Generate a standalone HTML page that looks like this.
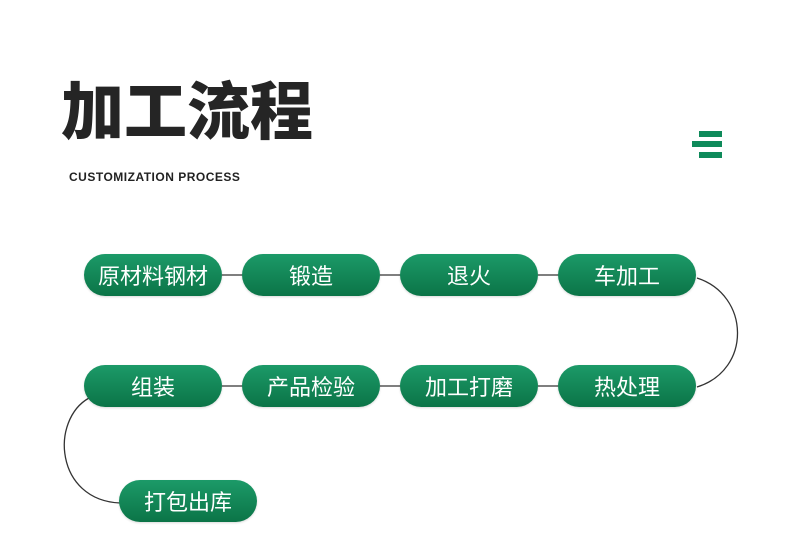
<!DOCTYPE html>
<html><head><meta charset="utf-8"><style>
body{margin:0;width:790px;height:552px;background:#fff;position:relative;overflow:hidden;font-family:"Liberation Sans","Noto Sans CJK SC",sans-serif}
.t{position:absolute;left:61px;top:68px;font-size:63px;font-weight:900;color:#252525;letter-spacing:0px;line-height:80px;font-family:"Noto Sans CJK SC",sans-serif}
.s{position:absolute;left:69px;top:170px;font-size:12px;font-weight:bold;color:#222;letter-spacing:0.5px}
.b{position:absolute;height:8px;background:#0e8a5a}
.p{position:absolute;width:138px;height:42px;border-radius:21px;background:linear-gradient(#1c9a68,#0b7447);color:#fff;font-size:22px;line-height:42px;text-align:center;font-family:"Noto Sans CJK SC",sans-serif;box-shadow:0 1px 2px rgba(0,0,0,.15)}
svg{position:absolute;left:0;top:0}
</style></head><body>
<div class="t">加工流程</div>
<div class="s">CUSTOMIZATION PROCESS</div>
<div class="b" style="left:699px;top:131px;width:23px;height:6px"></div>
<div class="b" style="left:692px;top:141px;width:30px;height:6px"></div>
<div class="b" style="left:699px;top:152px;width:23px;height:6px"></div>
<svg width="790" height="552"><g fill="none" stroke="#333" stroke-width="1.3">
<line x1="222" y1="275" x2="243" y2="275"/><line x1="380" y1="275" x2="401" y2="275"/><line x1="538" y1="275" x2="559" y2="275"/>
<line x1="222" y1="386" x2="243" y2="386"/><line x1="380" y1="386" x2="401" y2="386"/><line x1="538" y1="386" x2="559" y2="386"/>
<path d="M697 278 C750 295 752 370 697 387"/>
<path d="M89 398 C50 420 55 500 120 503"/>
</g></svg>
<div class="p" style="left:84px;top:254px">原材料钢材</div>
<div class="p" style="left:242px;top:254px">锻造</div>
<div class="p" style="left:400px;top:254px">退火</div>
<div class="p" style="left:558px;top:254px">车加工</div>
<div class="p" style="left:84px;top:365px">组装</div>
<div class="p" style="left:242px;top:365px">产品检验</div>
<div class="p" style="left:400px;top:365px">加工打磨</div>
<div class="p" style="left:558px;top:365px">热处理</div>
<div class="p" style="left:119px;top:480px">打包出库</div>
</body></html>
